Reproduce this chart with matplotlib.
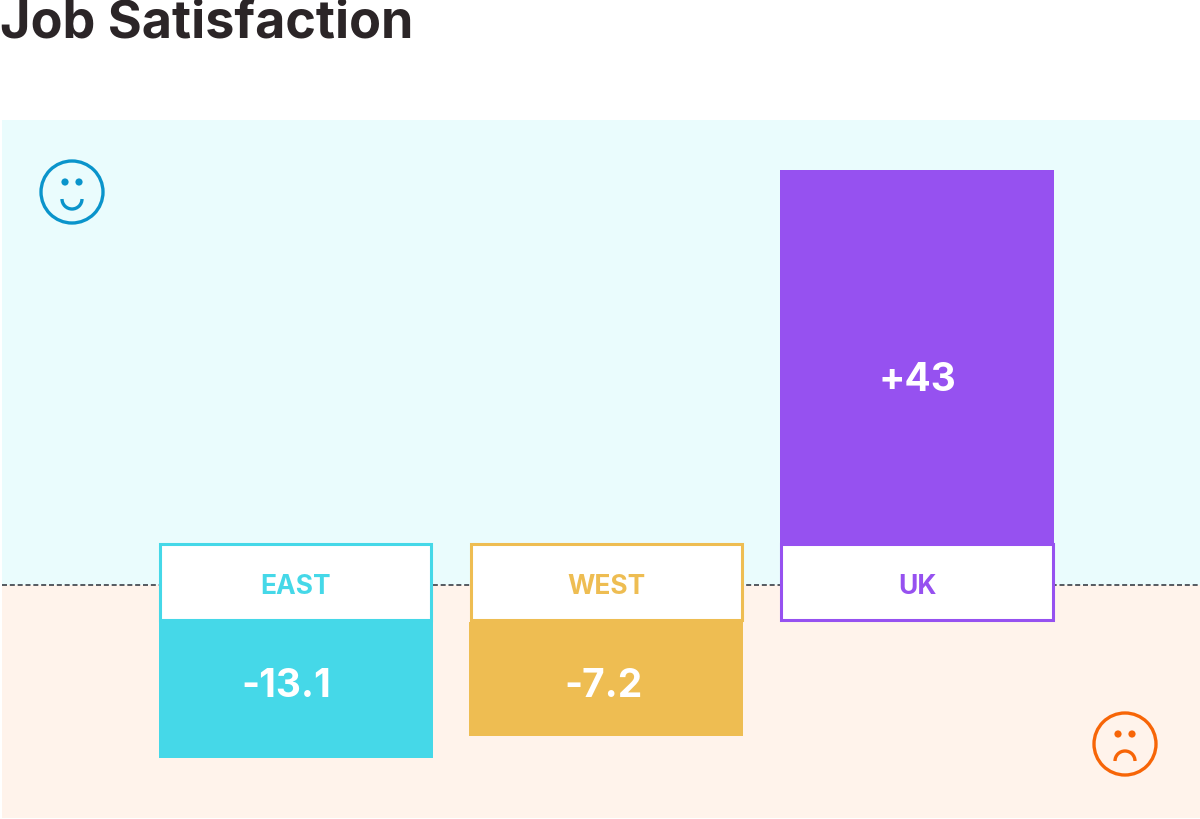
import matplotlib
matplotlib.use('Agg')
import matplotlib.pyplot as plt
from matplotlib.patches import Circle, Arc, Rectangle

regions = ['EAST', 'WEST', 'UK']
# drawn lengths, they are not proportional to the printed scores
bar_lengths = [-15.63, -13.05, 43]
score_labels = ['-13.1', '-7.2', '+43']
colors = ['#45D8E8', '#EEBD52', '#9651F0']

score_x_shift = [-0.03, -0.01, 0]
score_y = [-11.6, -11.6, 23.5]

BG_UP = '#EAFCFD'
BG_DOWN = '#FFF3EB'
BOX_H = 9.05
NEG_START = -4.2
POS_START = 4.6
FONT = 'Inter'

fig = plt.figure(figsize=(12, 8.19), dpi=100, facecolor='white')

ax = fig.add_axes([1.5 / 1200, 1 / 819, 1198.5 / 1200, 698 / 819])
ax.set_xlim(-0.947, 2.911)
ax.set_ylim(-26.7, 53.3)
ax.axis('off')

ax.axhspan(0, 53.3, color=BG_UP, lw=0, zorder=0)
ax.axhspan(-26.7, 0, color=BG_DOWN, lw=0, zorder=0)
ax.axhline(0, color='#3a3f47', lw=1.2, dashes=(3, 1.7), zorder=1)

for i, name in enumerate(regions):
    val = bar_lengths[i]
    start = POS_START if val > 0 else NEG_START
    ax.bar(i, val, bottom=start, width=0.882, color=colors[i], lw=0, zorder=2)

    # inset by half the edge so the border stays inside the bar width
    ax.add_patch(Rectangle((i - 0.4365, NEG_START + 0.17), 0.873, BOX_H - 0.34,
                           facecolor='white', edgecolor=colors[i], lw=2.2, zorder=3))
    ax.text(i, -0.2, name, color=colors[i], fontsize=19,
            fontweight='bold', family=FONT, ha='center', va='center', zorder=4)
    ax.text(i + score_x_shift[i], score_y[i], score_labels[i], color='white', fontsize=28,
            fontweight='bold', family=FONT, ha='center', va='center', zorder=4)

# overlay in picture pixels for the two faces and the title
px = fig.add_axes([0, 0, 1, 1], facecolor='none')
px.set_xlim(0, 1200)
px.set_ylim(819, 0)
px.axis('off')


def face(cx, cy, color, happy):
    px.add_patch(Circle((cx, cy), 31, fill=False, edgecolor=color, lw=2.4))
    px.add_patch(Circle((cx - 7, cy - 10), 3.6, color=color, lw=0))
    px.add_patch(Circle((cx + 7, cy - 10), 3.6, color=color, lw=0))
    if happy:
        px.add_patch(Arc((cx, cy + 7), 20, 20, theta1=0, theta2=180, color=color, lw=2.4))
    else:
        px.add_patch(Arc((cx, cy + 17), 20, 20, theta1=180, theta2=360, color=color, lw=2.4))


face(72, 192, '#0A94CB', True)
face(1125, 744, '#F76507', False)

px.text(0, 38, 'Job Satisfaction', color='#2B2527', fontsize=37.5, fontweight='bold',
        family=FONT, ha='left', va='baseline')

fig.savefig('out.png', dpi=100)
